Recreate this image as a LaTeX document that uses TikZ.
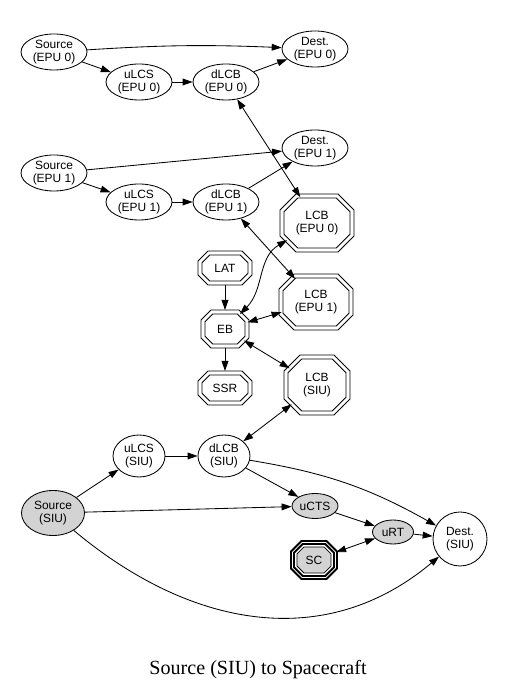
\documentclass[tikz,border=0pt]{standalone}
\usepackage{fontspec}
\setmainfont{Liberation Serif}
\newfontfamily\graphfont{Liberation Sans}
\usetikzlibrary{arrows.meta, shapes.geometric}
\definecolor{nodegray}{HTML}{D3D3D3}
% octagon: centre x, centre y, half width, half height, corner cut
\newcommand{\octpath}[5]{({#1-(#3)+(#5)},{#2+(#4)}) -- ({#1+(#3)-(#5)},{#2+(#4)}) -- ({#1+(#3)},{#2+(#4)-(#5)}) -- ({#1+(#3)},{#2-(#4)+(#5)}) -- ({#1+(#3)-(#5)},{#2-(#4)}) -- ({#1-(#3)+(#5)},{#2-(#4)}) -- ({#1-(#3)},{#2-(#4)+(#5)}) -- ({#1-(#3)},{#2+(#4)-(#5)}) -- cycle}

\begin{document}
\begin{tikzpicture}[x=0.25mm, y=0.25mm,
  oval/.style={ellipse, draw, line width=0.6pt, inner sep=0pt, minimum width=16.5mm, minimum height=9mm, align=center, font=\graphfont\fontsize{8.5}{9}\selectfont},
  grayoval/.style={oval, fill=nodegray},
  octnode/.style={ellipse, inner sep=0pt, outer sep=0pt, align=center, font=\graphfont\fontsize{8.5}{9}\selectfont},
  octline/.style={line width=0.6pt},
  flow/.style={line width=0.6pt, -{Triangle[length=2.5mm, width=1.7mm]}},
  biflow/.style={line width=0.6pt, {Triangle[length=2.5mm, width=1.7mm]}-{Triangle[length=2.5mm, width=1.7mm]}}]
\useasboundingbox (0,0) rectangle (505,687);

% EPU 0
\node[oval] (srcA) at (54,635) {Source\\(EPU 0)};
\node[oval] (dstA) at (315,638) {Dest.\\(EPU 0)};
\node[oval] (ulcsA) at (139,605) {uLCS\\(EPU 0)};
\node[oval] (dlcbA) at (226,605) {dLCB\\(EPU 0)};

% EPU 1
\node[oval] (srcB) at (54,514) {Source\\(EPU 1)};
\node[oval] (dstB) at (315,539) {Dest.\\(EPU 1)};
\node[oval] (ulcsB) at (139,485) {uLCS\\(EPU 1)};
\node[oval] (dlcbB) at (226,485) {dLCB\\(EPU 1)};

% double octagons
\foreach \nm/\cx/\cy/\hw/\hh/\chf/\txt in {
  lcbA/317/464/37/29/16/{LCB\\(EPU 0)},
  lcbB/316/385/37/28/15/{LCB\\(EPU 1)},
  lcbS/317/302/33/30/16/{LCB\\(SIU)},
  lat/225/419/27/17/10/LAT,
  eb/225/358/24/19/10/EB,
  ssr/225/299/27/17/10/SSR}{
  \draw[octline] \octpath{\cx}{\cy}{\hw}{\hh}{\chf};
  \draw[octline] \octpath{\cx}{\cy}{\hw-4}{\hh-4}{\chf-2.3};
  \node[octnode, minimum width=\hw*0.5mm, minimum height=\hh*0.5mm] (\nm) at (\cx,\cy) {\txt};
}

% SIU
\node[oval, minimum width=13mm, minimum height=10.5mm] (ulcsS) at (139,231) {uLCS\\(SIU)};
\node[oval, minimum width=13mm, minimum height=10.5mm] (dlcbS) at (224,231) {dLCB\\(SIU)};
\node[grayoval, minimum width=15.75mm, minimum height=11.25mm] (srcS) at (53,174) {Source\\(SIU)};
\node[grayoval, minimum width=11.5mm, minimum height=6.25mm] (ucts) at (315,181) {uCTS};
\node[grayoval, minimum width=10.25mm, minimum height=6mm] (urt) at (393,155) {uRT};
\node[oval, minimum width=13.5mm, minimum height=13.5mm] (dstS) at (460,148) {Dest.\\(SIU)};

% spacecraft, triple octagon
\draw[line width=1.4pt] \octpath{314}{127}{23}{19}{10.4};
\draw[line width=1.4pt] \octpath{314}{127}{20}{16}{8.7};
\draw[line width=0.6pt, fill=nodegray] \octpath{314}{127}{17}{13}{6.9};
\node[octnode, minimum width=12mm, minimum height=10mm] (sc) at (314,127) {SC};

\draw[flow] (srcA) to[bend left=3] (dstA);
\draw[flow] (srcA) -- (ulcsA);
\draw[flow] (ulcsA) -- (dlcbA);
\draw[flow] (dlcbA) -- (dstA);
\draw[biflow] (dlcbA) -- (lcbA);

\draw[flow] (srcB) -- (dstB);
\draw[flow] (srcB) -- (ulcsB);
\draw[flow] (ulcsB) -- (dlcbB);
\draw[flow] (dlcbB) -- (dstB);
\draw[biflow] (dlcbB) -- (lcbB);

\draw[flow] (lat) -- (eb);
\draw[flow] (eb) -- (ssr);
\draw[biflow] (eb) to[out=45, in=210] (lcbA);
\draw[biflow] (eb) -- (lcbB);
\draw[biflow] (eb) -- (lcbS);
\draw[biflow] (lcbS) -- (dlcbS);

\draw[flow] (srcS) -- (ulcsS);
\draw[flow] (ulcsS) -- (dlcbS);
\draw[flow] (dlcbS) -- (ucts);
\draw[flow] (dlcbS) to[bend left=10] (dstS);
\draw[flow] (srcS) -- (ucts);
\draw[flow] (ucts) -- (urt);
\draw[flow] (urt) -- (dstS);
\draw[biflow] (sc) -- (urt);
\draw[flow] (srcS) to[out=-40, in=-140, looseness=1.05] (dstS);

\node[anchor=base, font=\fontsize{14.3}{16}\selectfont] (caption) at (258,12) {Source (SIU) to Spacecraft};
\end{tikzpicture}
\end{document}
